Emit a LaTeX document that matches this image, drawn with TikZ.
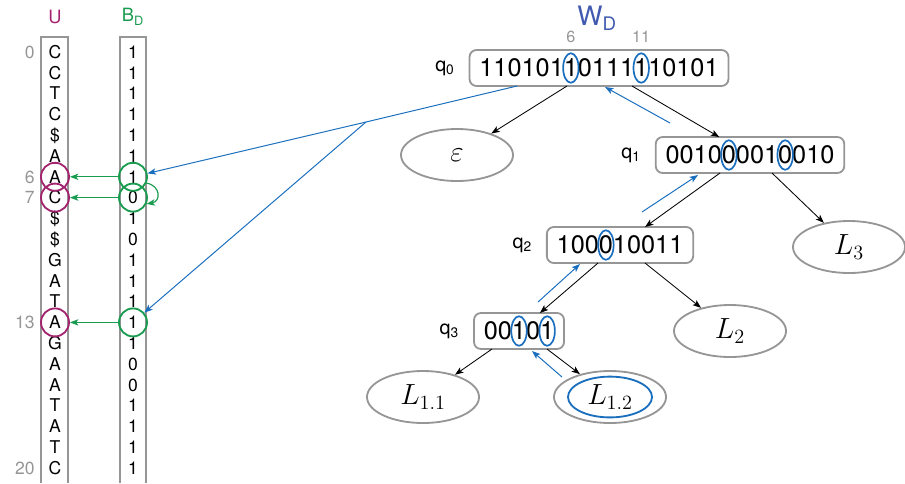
\documentclass[tikz,border=0pt]{standalone}
\usepackage[no-math]{fontspec}
\setmainfont{TeX Gyre Heros}
\usetikzlibrary{arrows.meta,positioning,shapes.geometric,calc}
\definecolor{ucolor}{RGB}{163,35,110}
\definecolor{bcolor}{RGB}{25,155,80}
\definecolor{pathcolor}{RGB}{25,110,190}
\definecolor{wcolor}{RGB}{65,90,175}
\definecolor{framecolor}{RGB}{150,150,150}
% offset of a bit inside a tree node (from its west side)
\newcommand{\bitx}[1]{7pt+(#1+0.5)*10.008pt}

\begin{document}
\begin{tikzpicture}[x=0.025cm, y=-0.025cm,
    >={Stealth[length=6pt, width=4.5pt, inset=1.5pt]},
    entry/.style={font=\fontsize{12.5}{14}\selectfont, inner sep=0pt, text height=8.9pt, text depth=0pt},
    rownum/.style={entry, text=framecolor},
    header/.style={font=\fontsize{13}{15}\selectfont},
    ucirc/.style={circle, draw=ucolor, line width=1.3pt, minimum size=0.7cm, inner sep=0pt},
    bcirc/.style={circle, draw=bcolor, line width=1.3pt, minimum size=0.7cm, inner sep=0pt},
    wnode/.style={rectangle, draw=framecolor, line width=1.3pt, rounded corners=5pt, inner xsep=7pt, inner ysep=0pt, minimum height=0.9cm, outer sep=0pt, font=\fontsize{18}{20}\selectfont},
    leaf/.style={ellipse, draw=framecolor, line width=1.3pt, minimum width=2.8cm, minimum height=1.3cm, font=\fontsize{20.74}{24}\selectfont},
    leafin/.style={ellipse, draw=pathcolor, line width=1.3pt, minimum width=2.1cm, minimum height=1.02cm},
    qlabel/.style={font=\fontsize{14}{16}\selectfont},
    idx/.style={font=\fontsize{11.5}{13}\selectfont, text=framecolor},
    bitmark/.style={draw=pathcolor, line width=1.2pt},
    edge/.style={->, line width=0.6pt},
    walk/.style={->, line width=0.7pt, pathcolor},
    rank/.style={->, line width=0.8pt, bcolor},
]
    \useasboundingbox (0,0) rectangle (905,483);

    % Columns U and B_D
    \node[header, text=ucolor] (uhead) at (55,17) {U};
    \node[header, text=bcolor] (bhead) at (133,17) {B\textsubscript{D}};
    \draw[framecolor, line width=1.1pt] (41,483) |- (68,37) -- (68,483);
    \draw[framecolor, line width=1.1pt] (120,483) |- (146,37) -- (146,483);
    \foreach \c [count=\i from 0] in {C,C,T,C,\$,A,A,C,\$,\$,G,A,T,A,G,A,A,T,A,T,C}
        \node[entry] (u\i) at (55, 52+20.8*\i) {\c};
    \foreach \c [count=\i from 0] in {1,1,1,1,1,1,1,0,1,0,1,1,1,1,1,0,0,1,1,1,1}
        \node[entry] (b\i) at (133, 52+20.8*\i) {\c};
    \foreach \r in {0,6,7,13,20}
        \node[rownum, left=0.5cm of u\r.center] (n\r) {\r};

    % Rank mapping B_D -> U
    \foreach \r in {6,7,13} {
        \node[ucirc] (cu\r) at (u\r) {};
        \node[bcirc] (cb\r) at (b\r) {};
        \draw[rank] (cb\r) -- (cu\r);
    }
    \draw[rank] (cb6.-25) to[out=-10, in=10, looseness=1.8] (cb7.-25);

    % Wavelet tree W_D
    \node[font=\fontsize{19}{21}\selectfont, text=wcolor] (wd) at (597,18) {W\textsubscript{D}};
    \node[wnode] (q0) at (599,68) {11010110111110101};
    \node[wnode] (q1) at (750,155) {001000010010};
    \node[wnode] (q2) at (620,245) {100010011};
    \node[wnode] (q3) at (519,331) {00101};
    \node[qlabel, left=0.25cm of q0] (q0lab) {q\textsubscript{0}};
    \node[qlabel, left=0.25cm of q1] (q1lab) {q\textsubscript{1}};
    \node[qlabel, left=0.25cm of q2] (q2lab) {q\textsubscript{2}};
    \node[qlabel, left=0.25cm of q3] (q3lab) {q\textsubscript{3}};

    \node[leaf] (eps) at (457,155) {$\varepsilon$};
    \node[leaf] (l3) at (849,247) {$L_3$};
    \node[leaf] (l2) at (730,331) {$L_2$};
    \node[leaf] (l11) at (423,397) {$L_{1.1}$};
    \node[leaf] (l12) at (610,397) {$L_{1.2}$};
    \node[leafin] (l12in) at (l12) {};

    % Marked bits
    \node[idx] (i6) at ([xshift=\bitx{6}, yshift=22pt]q0.west) {6};
    \node[idx] (i11) at ([xshift=\bitx{11}, yshift=22pt]q0.west) {11};
    \draw[bitmark] ([xshift=\bitx{6}]q0.west) ellipse [x radius=5.5pt, y radius=10.5pt];
    \draw[bitmark] ([xshift=\bitx{11}]q0.west) ellipse [x radius=5.5pt, y radius=10.5pt];
    \draw[bitmark] ([xshift=\bitx{4}]q1.west) ellipse [x radius=5.5pt, y radius=10.5pt];
    \draw[bitmark] ([xshift=\bitx{8}]q1.west) ellipse [x radius=5.5pt, y radius=10.5pt];
    \draw[bitmark] ([xshift=\bitx{3}]q2.west) ellipse [x radius=5.5pt, y radius=10.5pt];
    \draw[bitmark] ([xshift=\bitx{2}]q3.west) ellipse [x radius=5.5pt, y radius=10.5pt];
    \draw[bitmark] ([xshift=\bitx{4}]q3.west) ellipse [x radius=5.5pt, y radius=10.5pt];

    % Tree edges
    \draw[edge] ([shift={(-32,0)}]q0.south) -- (eps);
    \draw[edge] ([shift={(33,0)}]q0.south) -- (q1);
    \draw[edge] ([shift={(-30,0)}]q1.south) -- (q2);
    \draw[edge] ([shift={(22,0)}]q1.south) -- (l3);
    \draw[edge] ([shift={(-22,0)}]q2.south) -- (q3);
    \draw[edge] ([shift={(25,0)}]q2.south) -- (l2);
    \draw[edge] ([shift={(-27,0)}]q3.south) -- (l11);
    \draw[edge] ([shift={(28,0)}]q3.south) -- (l12);

    % Walk back up to the root and into B_D
    \draw[walk] ([shift={(-48,-20)}]l12.center) -- ([shift={(13,2)}]q3.south);
    \draw[walk] ([shift={(19,-11)}]q3.north) -- ([shift={(-40,1)}]q2.south);
    \draw[walk] ([shift={(22,-15)}]q2.north) -- ([shift={(-52,2)}]q1.south);
    \draw[walk] ([shift={(-80,-14)}]q1.north) -- ([shift={(6,1)}]q0.south);
    \coordinate (split) at (366,122);
    \draw[walk] ([shift={(-82,0)}]q0.south) -- (split) -- (cb6);
    \draw[walk] (split) -- (cb13);
\end{tikzpicture}
\end{document}
